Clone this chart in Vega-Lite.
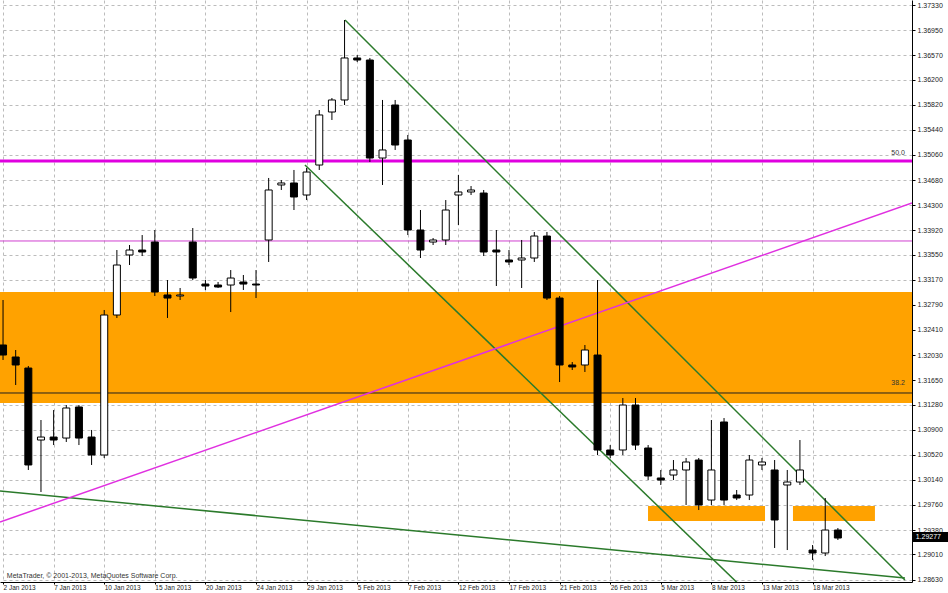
{
  "$schema": "https://vega.github.io/schema/vega-lite/v6.json",
  "width": 912,
  "height": 582,
  "autosize": "none",
  "padding": {"left": 0, "top": 0, "right": 36, "bottom": 11},
  "background": "white",
  "config": {
    "view": {"stroke": null},
    "font": "Liberation Sans",
    "scale": {"continuousPadding": 0},
    "axis": {"labelFont": "Liberation Sans", "labelFontSize": 7, "labelColor": "#222222", "gridColor": "#bcbcbc", "gridDash": [3, 3], "gridWidth": 1, "domainColor": "black", "tickColor": "black", "tickSize": 3, "title": null}
  },
  "resolve": {"axis": {"x": "independent", "y": "independent"}},
  "datasets": {
    "candles": [
      {"i":0,"o":1.32182,"h":1.32863,"l":1.31955,"c":1.32030},
      {"i":1,"o":1.32000,"h":1.32106,"l":1.31576,"c":1.31879},
      {"i":2,"o":1.31833,"h":1.31864,"l":1.30289,"c":1.30365},
      {"i":3,"o":1.30743,"h":1.31046,"l":1.29956,"c":1.30788},
      {"i":4,"o":1.30788,"h":1.31197,"l":1.30667,"c":1.30743},
      {"i":5,"o":1.30773,"h":1.31273,"l":1.30713,"c":1.31228},
      {"i":6,"o":1.31243,"h":1.31273,"l":1.30667,"c":1.30773},
      {"i":7,"o":1.30788,"h":1.30895,"l":1.30365,"c":1.30516},
      {"i":8,"o":1.30516,"h":1.32712,"l":1.30471,"c":1.32636},
      {"i":9,"o":1.32636,"h":1.33620,"l":1.32591,"c":1.33393},
      {"i":10,"o":1.33545,"h":1.33696,"l":1.33393,"c":1.33620},
      {"i":11,"o":1.33620,"h":1.33847,"l":1.33529,"c":1.33590},
      {"i":12,"o":1.33741,"h":1.33923,"l":1.32924,"c":1.32984},
      {"i":13,"o":1.32939,"h":1.33166,"l":1.32591,"c":1.32893},
      {"i":14,"o":1.32924,"h":1.33045,"l":1.32863,"c":1.32939},
      {"i":15,"o":1.33741,"h":1.33953,"l":1.33166,"c":1.33196},
      {"i":16,"o":1.33105,"h":1.33166,"l":1.33015,"c":1.33075},
      {"i":17,"o":1.33090,"h":1.33136,"l":1.33045,"c":1.33060},
      {"i":18,"o":1.33090,"h":1.33317,"l":1.32681,"c":1.33196},
      {"i":19,"o":1.33136,"h":1.33242,"l":1.33015,"c":1.33105},
      {"i":20,"o":1.33105,"h":1.33317,"l":1.32893,"c":1.33090},
      {"i":21,"o":1.33772,"h":1.34711,"l":1.33439,"c":1.34529},
      {"i":22,"o":1.34605,"h":1.34680,"l":1.34529,"c":1.34635},
      {"i":23,"o":1.34635,"h":1.34832,"l":1.34226,"c":1.34423},
      {"i":24,"o":1.34453,"h":1.34862,"l":1.34377,"c":1.34801},
      {"i":25,"o":1.34907,"h":1.35740,"l":1.34832,"c":1.35665},
      {"i":26,"o":1.35710,"h":1.35922,"l":1.35589,"c":1.35892},
      {"i":27,"o":1.35892,"h":1.37103,"l":1.35816,"c":1.36528},
      {"i":28,"o":1.36528,"h":1.36573,"l":1.36467,"c":1.36497},
      {"i":29,"o":1.36497,"h":1.36528,"l":1.34953,"c":1.35013},
      {"i":30,"o":1.35013,"h":1.35892,"l":1.34605,"c":1.35135},
      {"i":31,"o":1.35816,"h":1.35892,"l":1.35135,"c":1.35210},
      {"i":32,"o":1.35286,"h":1.35362,"l":1.33847,"c":1.33923},
      {"i":33,"o":1.33923,"h":1.34226,"l":1.33499,"c":1.33620},
      {"i":34,"o":1.33741,"h":1.33802,"l":1.33696,"c":1.33772},
      {"i":35,"o":1.33772,"h":1.34377,"l":1.33696,"c":1.34226},
      {"i":36,"o":1.34453,"h":1.34756,"l":1.33999,"c":1.34499},
      {"i":37,"o":1.34499,"h":1.34589,"l":1.34453,"c":1.34529},
      {"i":38,"o":1.34483,"h":1.34529,"l":1.33529,"c":1.33590},
      {"i":39,"o":1.33620,"h":1.33923,"l":1.33075,"c":1.33590},
      {"i":40,"o":1.33469,"h":1.33620,"l":1.33393,"c":1.33439},
      {"i":41,"o":1.33469,"h":1.33772,"l":1.33045,"c":1.33499},
      {"i":42,"o":1.33499,"h":1.33893,"l":1.33439,"c":1.33832},
      {"i":43,"o":1.33832,"h":1.33893,"l":1.32863,"c":1.32893},
      {"i":44,"o":1.32893,"h":1.32924,"l":1.31621,"c":1.31879},
      {"i":45,"o":1.31879,"h":1.31924,"l":1.31803,"c":1.31849},
      {"i":46,"o":1.31879,"h":1.32182,"l":1.31773,"c":1.32106},
      {"i":47,"o":1.32030,"h":1.33166,"l":1.30516,"c":1.30592},
      {"i":48,"o":1.30592,"h":1.30667,"l":1.30471,"c":1.30516},
      {"i":49,"o":1.30592,"h":1.31379,"l":1.30516,"c":1.31273},
      {"i":50,"o":1.31273,"h":1.31379,"l":1.30592,"c":1.30667},
      {"i":51,"o":1.30622,"h":1.30667,"l":1.30137,"c":1.30198},
      {"i":52,"o":1.30168,"h":1.30289,"l":1.30062,"c":1.30137},
      {"i":53,"o":1.30213,"h":1.30440,"l":1.30137,"c":1.30289},
      {"i":54,"o":1.30289,"h":1.30471,"l":1.29759,"c":1.30410},
      {"i":55,"o":1.30440,"h":1.30471,"l":1.29683,"c":1.29759},
      {"i":56,"o":1.29834,"h":1.31046,"l":1.29759,"c":1.30289},
      {"i":57,"o":1.31016,"h":1.31076,"l":1.29759,"c":1.29834},
      {"i":58,"o":1.29910,"h":1.29986,"l":1.29834,"c":1.29865},
      {"i":59,"o":1.29910,"h":1.30516,"l":1.29834,"c":1.30440},
      {"i":60,"o":1.30365,"h":1.30471,"l":1.30289,"c":1.30410},
      {"i":61,"o":1.30289,"h":1.30440,"l":1.29108,"c":1.29532},
      {"i":62,"o":1.30062,"h":1.30289,"l":1.29077,"c":1.30107},
      {"i":63,"o":1.30107,"h":1.30743,"l":1.30062,"c":1.30289},
      {"i":64,"o":1.29077,"h":1.29153,"l":1.28926,"c":1.29032},
      {"i":65,"o":1.29032,"h":1.29865,"l":1.28986,"c":1.29380},
      {"i":66,"o":1.29380,"h":1.29410,"l":1.29229,"c":1.29259}
    ],
    "zones": [
      {"name":"band","x1":-0.24,"x2":71.86,"top":1.32984,"bottom":1.31303},
      {"name":"box1","x1":50.99,"x2":60.24,"top":1.29744,"bottom":1.29517},
      {"name":"box2","x1":62.45,"x2":68.93,"top":1.29744,"bottom":1.29517}
    ],
    "fib50": [{"price":1.34968}],
    "res": [{"price":1.33757}],
    "fib382": [{"price":1.31455}],
    "green": [
      {"id":"channel top","x":27.04,"p":1.37103},
      {"id":"channel top","x":71.3,"p":1.28623},
      {"id":"channel bottom","x":23.87,"p":1.34907},
      {"id":"channel bottom","x":60.0,"p":1.28220},
      {"id":"support","x":-0.24,"p":1.29971},
      {"id":"support","x":71.3,"p":1.28653}
    ],
    "rising": [
      {"x":-0.24,"p":1.29501},
      {"x":71.86,"p":1.34332}
    ],
    "fibtext": [
      {"x":71.3,"p":1.35044,"t":"50.0"},
      {"x":71.3,"p":1.31561,"t":"38.2"}
    ],
    "last": [
      {"x1":71.94,"x2":74.8,"top":1.29350,"bottom":1.29199,"x":72.15,"p":1.29274,"t":"1.29277"}
    ],
    "credit": [
      {"x":0.3,"p":1.28684,"t":"MetaTrader, © 2001-2013, MetaQuotes Software Corp."}
    ]
  },
  "layer": [
    {
      "data": {"name": "zones"},
      "mark": {"type": "rect", "color": "#ffa200"},
      "encoding": {
        "x": {"field": "x1", "type": "quantitative", "scale": {"domain": [-0.24, 71.86], "nice": false, "zero": false, "padding": 0},
          "axis": {"orient": "bottom", "values": [0,4,8,12,16,20,24,28,32,36,40,44,48,52,56,60,64], "grid": true, "tickSize": 2, "labelFontSize": 6.5, "labelBaseline": "top", "labelAlign": "left", "labelPadding": 0, "labelOverlap": false, "labelFlush": false,
            "labelExpr": "['2 Jan 2013','7 Jan 2013','10 Jan 2013','15 Jan 2013','20 Jan 2013','24 Jan 2013','29 Jan 2013','5 Feb 2013','7 Feb 2013','12 Feb 2013','17 Feb 2013','21 Feb 2013','26 Feb 2013','5 Mar 2013','8 Mar 2013','13 Mar 2013','18 Mar 2013'][round(datum.value/4)]"}},
        "x2": {"field": "x2"},
        "y": {"field": "top", "type": "quantitative", "scale": {"domain": [1.28593, 1.37406], "nice": false, "zero": false, "padding": 0},
          "axis": {"orient": "right", "values": [1.2863,1.2901,1.2938,1.2976,1.3014,1.3052,1.309,1.3128,1.3165,1.3203,1.3241,1.3279,1.3317,1.3355,1.3392,1.343,1.3468,1.3506,1.3544,1.3582,1.362,1.3657,1.3695,1.3733], "format": ".5f", "grid": true, "labelPadding": 2, "labelBaseline": "middle"}},
        "y2": {"field": "bottom"}
      }
    },
    {
      "data": {"name": "fib50"},
      "mark": {"type": "rule", "color": "#e000e0", "strokeWidth": 3},
      "encoding": {"y": {"field": "price", "type": "quantitative", "axis": null}}
    },
    {
      "data": {"name": "res"},
      "mark": {"type": "rule", "color": "#d040d0", "strokeWidth": 1},
      "encoding": {"y": {"field": "price", "type": "quantitative", "axis": null}}
    },
    {
      "data": {"name": "fib382"},
      "mark": {"type": "rule", "color": "#202020", "strokeWidth": 1},
      "encoding": {"y": {"field": "price", "type": "quantitative", "axis": null}}
    },
    {
      "data": {"name": "green"},
      "mark": {"type": "line", "clip": true, "strokeWidth": 1.5, "color": "#2b7a2b"},
      "encoding": {
        "x": {"field": "x", "type": "quantitative", "axis": null},
        "y": {"field": "p", "type": "quantitative", "axis": null},
        "detail": {"field": "id"}
      }
    },
    {
      "data": {"name": "rising"},
      "mark": {"type": "line", "clip": true, "strokeWidth": 1.5, "color": "#e030e0"},
      "encoding": {
        "x": {"field": "x", "type": "quantitative", "axis": null},
        "y": {"field": "p", "type": "quantitative", "axis": null}
      }
    },
    {
      "data": {"name": "candles"},
      "mark": {"type": "rule", "color": "black", "strokeWidth": 1},
      "encoding": {
        "x": {"field": "i", "type": "quantitative", "axis": null},
        "y": {"field": "l", "type": "quantitative", "axis": null},
        "y2": {"field": "h"}
      }
    },
    {
      "data": {"name": "candles"},
      "mark": {"type": "bar", "size": 7, "stroke": "black", "strokeWidth": 1},
      "encoding": {
        "x": {"field": "i", "type": "quantitative", "axis": null},
        "y": {"field": "o", "type": "quantitative", "axis": null},
        "y2": {"field": "c"},
        "fill": {"condition": {"test": "datum.c > datum.o", "value": "white"}, "value": "black"}
      }
    },
    {
      "data": {"name": "fibtext"},
      "mark": {"type": "text", "align": "right", "baseline": "bottom", "fontSize": 7, "color": "#333333"},
      "encoding": {
        "x": {"field": "x", "type": "quantitative", "axis": null},
        "y": {"field": "p", "type": "quantitative", "axis": null},
        "text": {"field": "t"}
      }
    },
    {
      "data": {"name": "last"},
      "mark": {"type": "rect", "color": "black"},
      "encoding": {
        "x": {"field": "x1", "type": "quantitative", "axis": null},
        "x2": {"field": "x2"},
        "y": {"field": "top", "type": "quantitative", "axis": null},
        "y2": {"field": "bottom"}
      }
    },
    {
      "data": {"name": "last"},
      "mark": {"type": "text", "align": "left", "baseline": "middle", "fontSize": 7, "color": "white"},
      "encoding": {
        "x": {"field": "x", "type": "quantitative", "axis": null},
        "y": {"field": "p", "type": "quantitative", "axis": null},
        "text": {"field": "t"}
      }
    },
    {
      "data": {"name": "credit"},
      "mark": {"type": "text", "align": "left", "baseline": "middle", "fontSize": 7, "color": "#333333"},
      "encoding": {
        "x": {"field": "x", "type": "quantitative", "axis": null},
        "y": {"field": "p", "type": "quantitative", "axis": null},
        "text": {"field": "t"}
      }
    }
  ]
}
